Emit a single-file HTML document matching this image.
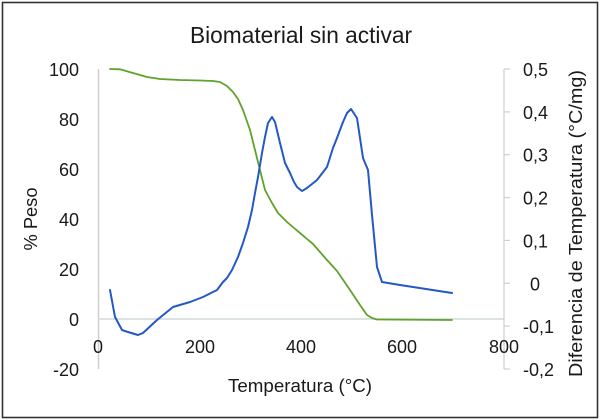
<!DOCTYPE html>
<html>
<head>
<meta charset="utf-8">
<style>
html,body{margin:0;padding:0;background:#fff;}
svg{display:block;}
text{font-family:"Liberation Sans",sans-serif;fill:#1a1a1a;}
</style>
</head>
<body>
<svg width="600" height="420" viewBox="0 0 600 420" xmlns="http://www.w3.org/2000/svg">
<rect x="0" y="0" width="600" height="420" fill="#fff"/>
<rect x="2.5" y="2.5" width="595" height="415" fill="none" stroke="#333" stroke-width="1.6"/>

<!-- title -->
<text x="190" y="43" font-size="23" textLength="222" lengthAdjust="spacingAndGlyphs">Biomaterial sin activar</text>

<!-- left axis -->
<line x1="98.5" y1="69" x2="98.5" y2="369" stroke="#cfcfcf" stroke-width="1.5"/>
<!-- zero line -->
<line x1="98" y1="319" x2="504" y2="319" stroke="#d2dada" stroke-width="1.5"/>
<!-- right axis -->
<line x1="504" y1="69" x2="504" y2="369" stroke="#cfcfcf" stroke-width="1.2"/>
<g stroke="#cfcfcf" stroke-width="1.2">
<line x1="504" y1="69" x2="510" y2="69"/>
<line x1="504" y1="111.9" x2="510" y2="111.9"/>
<line x1="504" y1="154.7" x2="510" y2="154.7"/>
<line x1="504" y1="197.6" x2="510" y2="197.6"/>
<line x1="504" y1="240.4" x2="510" y2="240.4"/>
<line x1="504" y1="283.3" x2="510" y2="283.3"/>
<line x1="504" y1="326.1" x2="510" y2="326.1"/>
<line x1="504" y1="369" x2="510" y2="369"/>
</g>

<!-- left tick labels -->
<g font-size="18" text-anchor="end">
<text x="79" y="76">100</text>
<text x="79" y="126">80</text>
<text x="79" y="176">60</text>
<text x="79" y="226">40</text>
<text x="79" y="276">20</text>
<text x="79" y="326">0</text>
<text x="79" y="376">-20</text>
</g>

<!-- right tick labels -->
<g font-size="18">
<text x="523" y="76">0,5</text>
<text x="523" y="118.9">0,4</text>
<text x="523" y="161.7">0,3</text>
<text x="523" y="204.6">0,2</text>
<text x="523" y="247.4">0,1</text>
<text x="530" y="290.3">0</text>
<text x="523" y="333.1">-0,1</text>
<text x="523" y="376">-0,2</text>
</g>

<!-- x tick labels -->
<g font-size="18" text-anchor="middle">
<text x="98" y="353">0</text>
<text x="200" y="353">200</text>
<text x="301" y="353">400</text>
<text x="402" y="353">600</text>
<text x="504" y="353">800</text>
</g>

<!-- axis titles -->
<text x="228" y="392" font-size="18" textLength="144" lengthAdjust="spacingAndGlyphs">Temperatura (°C)</text>
<text transform="translate(37,219) rotate(-90)" font-size="18" text-anchor="middle" textLength="63" lengthAdjust="spacingAndGlyphs">% Peso</text>
<text transform="translate(582,223.5) rotate(-90)" font-size="18" text-anchor="middle" textLength="307" lengthAdjust="spacingAndGlyphs">Diferencia de Temperatura (°C/mg)</text>

<!-- green TGA curve -->
<polyline fill="none" stroke="#5fa22c" stroke-width="1.8" stroke-linejoin="round" stroke-linecap="round"
points="110,69 120,69.3 133,73 147,77 160,79 180,80 200,80.5 213,81 220,82 227,86 233,92 238,99 243,110 250,130 255,150 260,170 265,190 272,203 278,213 287,222 294,228 300,233 307,239 313,244 320,252 327,260 337,271 350,290 360,305 367,315 372,318 377,319.5 452,320"/>

<!-- blue DTA curve -->
<polyline fill="none" stroke="#2358c6" stroke-width="2" stroke-linejoin="round" stroke-linecap="round"
points="110,290 115,317 122,330 128,332 138,335 143,333 157,320 173,307 190,302 203,297 217,290 223,282 227,278 232,270 238,257 243,243 248,227 252,210 255,193 258,177 262,153 265,137 268,123 272,117 275,122 280,143 285,163 290,173 294,182 297,187 302,191 307,188 317,180 327,167 333,148 337,138 343,122 347,113 351,109 357,118 363,158 368,170 372,215 377,267 382,282 400,285 452,293"/>
</svg>
</body>
</html>
